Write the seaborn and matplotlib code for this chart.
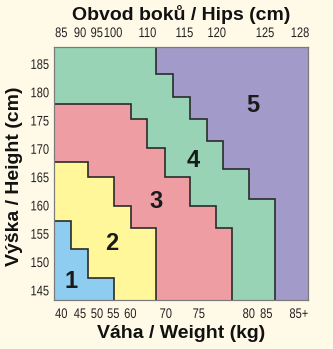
import matplotlib
matplotlib.use("Agg")
import matplotlib.pyplot as plt
from matplotlib.patheffects import AbstractPathEffect
from matplotlib.transforms import Affine2D
import seaborn as sns

# ---- data ----
height_ticks = [145, 150, 155, 160, 165, 170, 175, 180, 185]
weight_labels = ["40", "45", "50", "55", "60", "70", "75", "80", "85", "85+"]
weight_pos = [7.3, 26, 43, 59.3, 76.3, 111.8, 144.8, 194.8, 212.3, 244.8]
hips_labels = ["85", "90", "95", "100", "110", "115", "120", "125", "128"]
hips_pos = [7.3, 26, 42.7, 59, 93.3, 130.3, 162.7, 211, 246]

X_MAX = 254
Y_MIN, Y_MAX = 143.2, 187.9

# size zone boundaries: column edges and the upper height of each zone per column
size1_edges = [0, 17, 34, 60, 254]
size1_tops = [157.2, 152.2, 147.1, Y_MIN]
size2_edges = [0, 34, 60, 76.5, 102, 254]
size2_tops = [167.5, 165.0, 159.8, 156.0, Y_MIN]
size3_edges = [0, 76.5, 93, 111, 136, 162, 178, 254]
size3_tops = [177.8, 175.1, 170.0, 165.0, 159.8, 156.0, Y_MIN]
size4_edges = [0, 102, 119, 136, 153, 169, 195, 221, 254]
size4_tops = [Y_MAX, 183.1, 179.0, 175.1, 171.35, 166.3, 161.0, Y_MIN]

size_labels = ["1", "2", "3", "4", "5"]
label_x = [16.7, 57.7, 102, 139.3, 199.3]
label_y = [146.5, 153.1, 160.6, 167.9, 177.6]
colors = ["#8FCDF0", "#FFF79A", "#EE9EA3", "#97D3B4", "#A29AC9"]

BG = "#FFFAE8"
LINE = "#2B2B2B"


class Squeeze(AbstractPathEffect):
    """Horizontally condense text (narrow tick-label look)."""

    def __init__(self, sx=0.8, anchor="center"):
        super().__init__()
        self.sx = sx
        self.anchor = anchor

    def draw_path(self, renderer, gc, tpath, affine, rgbFace=None):
        bb = tpath.get_extents(affine)
        cx = bb.x1 if self.anchor == "right" else (bb.x0 + bb.x1) / 2
        a = affine + Affine2D().translate(-cx, 0).scale(self.sx, 1).translate(cx, 0)
        renderer.draw_path(gc, tpath, a, rgbFace)


sns.set_theme(style="white")
plt.rcParams["font.family"] = ["Liberation Sans", "DejaVu Sans"]

fig = plt.figure(figsize=(3.33, 3.49), dpi=100, facecolor=BG)
ax = fig.add_axes([54 / 333, 1 - 300 / 349, 254 / 333, 253 / 349])
ax.set_facecolor(BG)

# base zone 5
ax.fill_between([0, X_MAX], Y_MIN, Y_MAX, color=colors[4], lw=0)

zones = [(size4_edges, size4_tops, colors[3]),
         (size3_edges, size3_tops, colors[2]),
         (size2_edges, size2_tops, colors[1]),
         (size1_edges, size1_tops, colors[0])]


def stair(edges, tops):
    xs, ys = [], []
    for i, t in enumerate(tops):
        xs += [edges[i], edges[i + 1]]
        ys += [t, t]
    if tops[0] == Y_MAX:
        xs, ys = xs[1:], ys[1:]
    if tops[-1] == Y_MIN:
        xs, ys = xs[:-1], ys[:-1]
    return xs, ys


for edges, tops, c in zones:
    ax.fill_between(edges, list(tops) + [tops[-1]], Y_MIN, step="post", color=c, lw=0)

for edges, tops, c in zones:
    xs, ys = stair(edges, tops)
    sns.lineplot(x=xs, y=ys, sort=False, estimator=None, color=LINE, lw=1.2, ax=ax)
for l in ax.lines:
    l.set_solid_joinstyle("miter")

for s, x, y in zip(size_labels, label_x, label_y):
    ax.text(x, y, s, ha="center", va="center", fontsize=17, fontweight="bold",
            color="#1A1A1A")

ax.set_xlim(0, X_MAX)
ax.set_ylim(Y_MIN, Y_MAX)

TICK_FS = 10
ax.set_yticks(height_ticks)
ax.set_yticklabels([str(h) for h in height_ticks], fontsize=TICK_FS, color="#222222")
ax.set_xticks(weight_pos)
ax.set_xticklabels(weight_labels, fontsize=TICK_FS, color="#222222")
ax.tick_params(axis="both", length=0)
ax.tick_params(axis="y", pad=3.5)
ax.tick_params(axis="x", pad=5)

ax2 = ax.twiny()
ax2.set_xlim(0, X_MAX)
ax2.set_xticks(hips_pos)
ax2.set_xticklabels(hips_labels, fontsize=TICK_FS, color="#222222")
ax2.tick_params(axis="x", length=0, pad=5)

for t in ax.get_yticklabels():
    t.set_path_effects([Squeeze(0.8, "right")])
for t in ax.get_xticklabels() + ax2.get_xticklabels():
    t.set_path_effects([Squeeze(0.8, "center")])

for a in (ax, ax2):
    for sp in a.spines.values():
        sp.set_color("#7A7A7A")
        sp.set_linewidth(0.8)

ax.set_xlabel("Váha / Weight (kg)", fontsize=14, fontweight="bold", color="#111111", labelpad=3)
ax.set_ylabel("Výška / Height (cm)", fontsize=14, fontweight="bold", color="#111111")
ax2.set_xlabel("Obvod boků / Hips (cm)", fontsize=14, fontweight="bold", color="#111111", labelpad=4)
ax.yaxis.set_label_coords(-31 / 254, 0.49)

fig.savefig("out.png", dpi=100, facecolor=BG)
